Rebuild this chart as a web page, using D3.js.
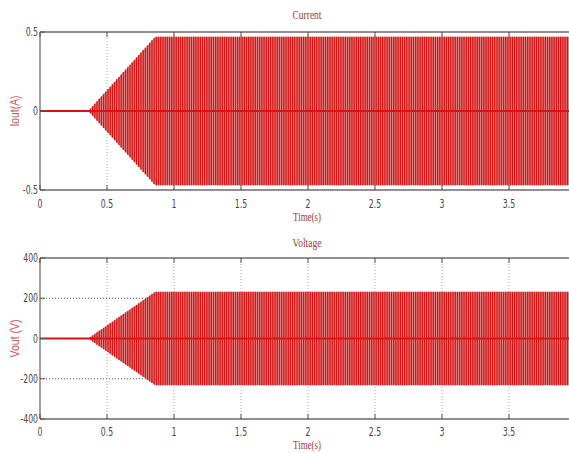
<!DOCTYPE html>
<html>
<head>
  <meta charset="UTF-8">
  <title>Current / Voltage</title>
  <style>
    body { margin: 0; background: #fff; }
    svg { display: block; }
    .tick-label { font-family: "Liberation Sans Narrow", "DejaVu Sans Condensed", "Liberation Sans", sans-serif; font-size: 12px; fill: #444; }
    .title { font-family: "Liberation Serif", "DejaVu Serif", serif; font-size: 13px; fill: #a03a3a; }
    .ylab { font-family: "Liberation Sans", "DejaVu Sans", sans-serif; font-size: 12px; fill: #d05050; }
  </style>
</head>
<body>
<svg></svg>
<script src="https://d3js.org/d3.v7.min.js"></script>
<script>

let width = 569, height = 453;

// envelope of the oscillating output
const envTime = [0, 0.36, 0.86, 4];
const currentEnv = [0, 0, 0.47, 0.47];
const voltageEnv = [0, 0, 232, 232];
const stripePeriod = 0.0164;   // spacing of the visible oscillation stripes (s)

const xTicks = [0, 0.5, 1, 1.5, 2, 2.5, 3, 3.5];
const currentTicks = [-0.5, 0, 0.5];
const voltageTicks = [-400, -200, 0, 200, 400];
const voltageGrid = [-200, 200];

let svg = d3.select("svg")
    .attr("width", width)
    .attr("height", height);

let x = d3.scaleLinear().domain([0, 4]).range([40, 576]);

let panels = [
  { title: "Current", ylabel: "Iout(A)", ylen: 31, env: currentEnv, ticks: currentTicks, grid: [],
    domain: [-0.5, 0.5], top: 32, bottom: 190, titleY: 19, labY: 208, xlabY: 221 },
  { title: "Voltage", ylabel: "Vout (V)", ylen: 38, env: voltageEnv, ticks: voltageTicks, grid: voltageGrid,
    domain: [-400, 400], top: 258, bottom: 419, titleY: 247, labY: 436, xlabY: 449 }
];

// stripe times
let times = d3.range(envTime[1], 4, stripePeriod);

// narrow text: squeeze horizontally
function narrow(sel, px, py, k) {
  sel.attr("transform", "translate(" + px + "," + py + ") scale(" + k + ",1)");
}

panels.forEach(p => {
  let y = d3.scaleLinear().domain(p.domain).range([p.bottom, p.top]);
  let amp = d3.scaleLinear().domain(envTime).range(p.env);
  let g = svg.append("g");

  g.append("defs").append("clipPath").attr("id", "clip-" + p.title)
    .append("rect").attr("x", 40).attr("y", p.top).attr("width", 540).attr("height", p.bottom - p.top);

  // grid
  g.selectAll(".vgrid").data(xTicks.slice(1)).enter().append("line")
    .attr("x1", d => x(d)).attr("x2", d => x(d))
    .attr("y1", p.top).attr("y2", p.bottom)
    .attr("stroke", "#aaa").attr("stroke-dasharray", "1,2");
  g.selectAll(".hgrid").data(p.grid).enter().append("line")
    .attr("x1", 40).attr("x2", width)
    .attr("y1", d => y(d)).attr("y2", d => y(d))
    .attr("stroke", "#555").attr("stroke-dasharray", "1,2");

  let sig = g.append("g").attr("clip-path", "url(#clip-" + p.title + ")");

  // light fill under the stripes
  let area = d3.area()
    .x(d => x(d))
    .y0(d => y(-amp(d)))
    .y1(d => y(amp(d)));
  sig.append("path")
    .datum(envTime)
    .attr("d", area)
    .attr("fill", "#e9a4a4");

  sig.selectAll(".stripe").data(times).enter().append("line")
    .attr("x1", d => x(d)).attr("x2", d => x(d))
    .attr("y1", d => y(-amp(d))).attr("y2", d => y(amp(d)))
    .attr("stroke", "#d41414")
    .attr("stroke-width", 1.45);

  // zero line
  sig.append("line")
    .attr("x1", x(0)).attr("x2", x(4))
    .attr("y1", y(0)).attr("y2", y(0))
    .attr("stroke", "#e01010").attr("stroke-width", 2);

  // frame
  g.append("line").attr("x1", 40).attr("x2", width).attr("y1", p.top).attr("y2", p.top)
    .attr("stroke", "#222").attr("stroke-width", 1.2);
  g.append("line").attr("x1", 40).attr("x2", width).attr("y1", p.bottom).attr("y2", p.bottom)
    .attr("stroke", "#222").attr("stroke-width", 1.2);
  g.append("line").attr("x1", 40).attr("x2", 40).attr("y1", p.top).attr("y2", p.bottom)
    .attr("stroke", "#444").attr("stroke-width", 1);

  // x ticks
  xTicks.forEach(t => {
    g.append("line").attr("x1", x(t)).attr("x2", x(t)).attr("y1", p.bottom).attr("y2", p.bottom - 5).attr("stroke", "#555");
    g.append("line").attr("x1", x(t)).attr("x2", x(t)).attr("y1", p.top).attr("y2", p.top + 5).attr("stroke", "#555");
  });
  g.selectAll(".xl").data(xTicks).enter().append("text")
    .attr("class", "tick-label")
    .attr("text-anchor", "middle")
    .each(function(d) { narrow(d3.select(this), x(d), p.labY, 0.72); })
    .text(d => d);

  // y ticks
  g.selectAll(".yt").data(p.ticks).enter().append("line")
    .attr("x1", 40).attr("x2", 45)
    .attr("y1", d => y(d)).attr("y2", d => y(d))
    .attr("stroke", "#555");
  g.selectAll(".yl").data(p.ticks).enter().append("text")
    .attr("class", "tick-label")
    .attr("text-anchor", "end")
    .each(function(d) { narrow(d3.select(this), 38, y(d) + 4, 0.72); })
    .text(d => d);

  // titles
  g.append("text").attr("class", "title")
    .attr("x", 307).attr("y", p.titleY).attr("text-anchor", "middle")
    .attr("textLength", 29).attr("lengthAdjust", "spacingAndGlyphs")
    .text(p.title);
  g.append("text").attr("class", "title")
    .attr("x", 307).attr("y", p.xlabY).attr("text-anchor", "middle")
    .attr("textLength", 28).attr("lengthAdjust", "spacingAndGlyphs")
    .text("Time(s)");
  let yc = y(0);
  g.append("text").attr("class", "ylab")
    .attr("transform", "translate(19," + yc + ") rotate(-90)")
    .attr("text-anchor", "middle")
    .attr("textLength", p.ylen).attr("lengthAdjust", "spacingAndGlyphs")
    .text(p.ylabel);
});

</script>
</body>
</html>
